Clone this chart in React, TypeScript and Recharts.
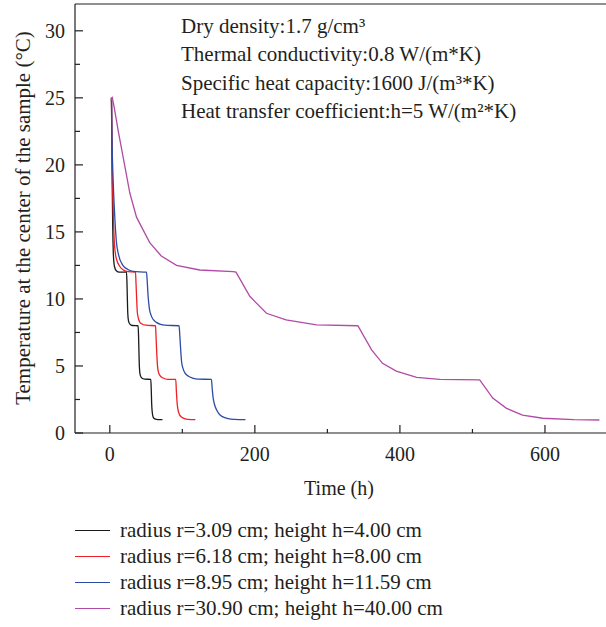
import React from "react";
import {
  LineChart,
  Line,
  XAxis,
  YAxis,
  ReferenceLine,
  Legend,
} from "recharts";

// time (h) and temperature at the sample centre (°C)
const r309Time = [2.3, 3, 4, 5, 6.5, 9, 13, 23, 23.6, 24.2, 24.8, 25.8, 28, 31, 39, 39.6, 40.2, 40.8, 41.8, 44, 48, 56.5, 57.1, 57.7, 58.4, 59.7, 62, 66.5, 72.6];
const r309Temp = [25, 20, 15.5, 13.2, 12.4, 12.1, 12.0, 12.0, 11.3, 10, 8.9, 8.35, 8.1, 8.02, 8.0, 7.3, 6, 4.9, 4.35, 4.1, 4.02, 4.0, 3.3, 2.2, 1.6, 1.2, 1.05, 1.0, 1.0];

const r618Time = [2.3, 3, 4.5, 6.5, 9, 14, 19, 25, 35.4, 36.1, 36.8, 37.8, 39, 41, 43.7, 50, 63, 63.8, 64.7, 65.6, 66.8, 69, 73.4, 80, 90.9, 91.8, 92.7, 93.8, 95.8, 98.8, 103, 108, 118];
const r618Temp = [25, 21, 17, 14, 13, 12.4, 12.15, 12.03, 12.0, 11.2, 10.3, 9.1, 8.65, 8.3, 8.15, 8.04, 8.0, 7.1, 6, 5.1, 4.6, 4.3, 4.1, 4.0, 4.0, 3.1, 2.3, 1.8, 1.4, 1.2, 1.07, 1.02, 1.0];

const r895Time = [2.3, 3, 4.5, 6.5, 9, 12, 18, 25, 32, 50.6, 51.6, 52.8, 54.5, 57.5, 60, 64.3, 70, 76, 95.5, 96.5, 97.6, 99, 101, 104, 108, 114, 122, 140.1, 141.2, 142.3, 144, 147, 151, 156, 163, 172, 187];
const r895Temp = [25, 22, 19, 16.5, 14.3, 13.3, 12.5, 12.2, 12.05, 12.0, 11.3, 10.2, 9.3, 8.7, 8.45, 8.25, 8.1, 8.04, 8.0, 7.3, 6.3, 5.3, 4.8, 4.45, 4.25, 4.1, 4.02, 4.0, 3.3, 2.7, 2.2, 1.75, 1.4, 1.2, 1.08, 1.02, 1.0];

const r3090Time = [1.4, 3.5, 6, 11.4, 20.7, 27.6, 36.8, 55, 71, 92, 124, 170, 174, 193, 216, 243, 285, 342, 361, 376, 395, 423, 455, 510, 528, 547, 569, 597, 640, 675];
const r3090Temp = [24.8, 25, 24.3, 22.6, 19.9, 17.9, 16.1, 14.2, 13.2, 12.5, 12.16, 12.04, 12.0, 10.2, 8.93, 8.43, 8.06, 8.0, 6.2, 5.2, 4.62, 4.15, 4.0, 3.96, 2.6, 1.84, 1.34, 1.1, 1.0, 0.97];

const seriesNames = [
  "radius r=3.09 cm; height h=4.00 cm",
  "radius r=6.18 cm; height h=8.00 cm",
  "radius r=8.95 cm; height h=11.59 cm",
  "radius r=30.90 cm; height h=40.00 cm",
];
const COLORS = ["#1a1a1a", "#ee2128", "#2d4ba6", "#b24aa6"];

const xTicks = [0, 100, 200, 300, 400, 500, 600];
const yTicks = [0, 2.5, 5, 7.5, 10, 12.5, 15, 17.5, 20, 22.5, 25, 27.5, 30];

const notes = [
  "Dry density:1.7 g/cm³",
  "Thermal conductivity:0.8 W/(m*K)",
  "Specific heat capacity:1600 J/(m³*K)",
  "Heat transfer coefficient:h=5 W/(m²*K)",
];

const toPoints = (t: number[], v: number[]) => t.map((x, i) => ({ t: x, T: v[i] }));
const series = [
  toPoints(r309Time, r309Temp),
  toPoints(r618Time, r618Temp),
  toPoints(r895Time, r895Temp),
  toPoints(r3090Time, r3090Temp),
];

const INK = "#231f20";
const FONT = "'Liberation Serif', 'Times New Roman', serif";

const XTick = (props: any) => {
  const { x, y, payload } = props;
  const major = payload.value % 200 === 0;
  return (
    <g>
      <line x1={x} x2={x} y1={y} y2={y - (major ? 8 : 4)} stroke={INK} strokeWidth={1.2} />
      {major && (
        <text x={x} y={y + 28} textAnchor="middle" fontSize={20} fill={INK} fontFamily={FONT}>
          {payload.value}
        </text>
      )}
    </g>
  );
};

const YTick = (props: any) => {
  const { x, y, payload } = props;
  const major = payload.value % 5 === 0;
  return (
    <g>
      <line x1={x} x2={x + (major ? 8 : 5)} y1={y} y2={y} stroke={INK} strokeWidth={1.2} />
      {major && (
        <text x={x - 10} y={y + 7} textAnchor="end" fontSize={20} fill={INK} fontFamily={FONT}>
          {payload.value}
        </text>
      )}
    </g>
  );
};

const LegendBox = (props: any) => {
  const items = [...(props.payload || [])].sort(
    (a: any, b: any) => seriesNames.indexOf(a.value) - seriesNames.indexOf(b.value)
  );
  return (
    <div style={{ fontFamily: FONT, fontSize: 21, color: INK, textAlign: "left" }}>
      {items.map((p: any) => (
        <div key={p.value} style={{ display: "flex", alignItems: "center", height: 26, whiteSpace: "nowrap" }}>
          <span style={{ display: "inline-block", width: 35, height: 0, borderTop: `1.5px solid ${p.color}`, marginRight: 10 }} />
          <span>{p.value}</span>
        </div>
      ))}
    </div>
  );
};

export default function App() {
  return (
    <div style={{ position: "fixed", left: 0, top: 0, width: 606, height: 627, overflow: "hidden", background: "#fff", fontFamily: FONT }}>
      <LineChart width={640} height={627} margin={{ top: 4, right: 8, left: 0, bottom: 164 }}>
        <XAxis
          type="number"
          dataKey="t"
          domain={[-48, 720]}
          ticks={xTicks}
          allowDataOverflow
          height={30}
          tickLine={false}
          tickSize={0}
          tickMargin={0}
          tick={<XTick />}
          stroke={INK}
          strokeWidth={1.2}
        />
        <YAxis
          type="number"
          domain={[0, 32]}
          ticks={yTicks}
          allowDataOverflow
          width={75}
          tickLine={false}
          tickSize={0}
          tickMargin={0}
          tick={<YTick />}
          stroke={INK}
          strokeWidth={1.2}
        />
        <ReferenceLine y={32} stroke={INK} strokeWidth={1.2} />
        {series.map((d, i) => (
          <Line
            key={seriesNames[i]}
            data={d}
            dataKey="T"
            name={seriesNames[i]}
            type={i === 3 ? "linear" : "monotone"}
            stroke={COLORS[i]}
            strokeWidth={1.3}
            dot={false}
            isAnimationActive={false}
          />
        ))}
        <Legend
          layout="horizontal"
          verticalAlign="middle"
          align="center"
          content={<LegendBox />}
          wrapperStyle={{ position: "absolute", left: 75, top: 517, width: 480 }}
        />
      </LineChart>

      <div style={{ position: "absolute", left: 181, top: 11.7, fontSize: 21, color: INK, lineHeight: "28.5px" }}>
        {notes.map((n, i) => (
          <div key={i} style={{ whiteSpace: "nowrap" }}>{n}</div>
        ))}
      </div>

      <div style={{ position: "absolute", left: 339, top: 488, transform: "translate(-50%, -50%)", fontSize: 20, color: INK, whiteSpace: "nowrap" }}>
        Time (h)
      </div>
      <div style={{ position: "absolute", left: 23, top: 218, transform: "translate(-50%, -50%) rotate(-90deg)", fontSize: 21, color: INK, whiteSpace: "nowrap" }}>
        Temperature at the center of the sample (°C)
      </div>
    </div>
  );
}
